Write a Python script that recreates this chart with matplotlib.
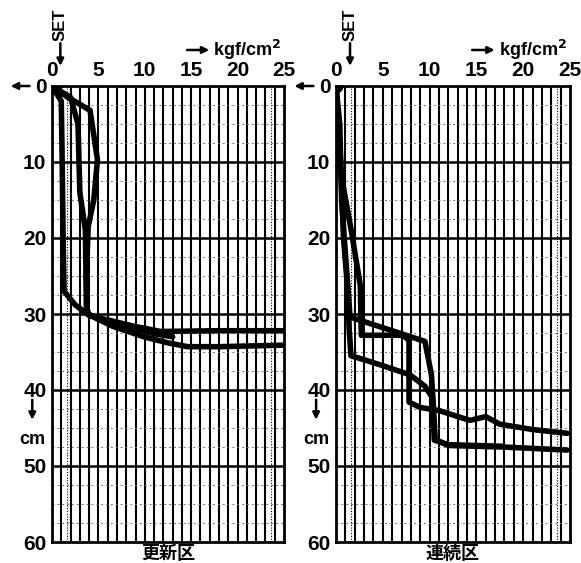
import matplotlib
matplotlib.use("Agg")
import matplotlib.pyplot as plt
import numpy as np

plt.rcParams['font.family'] = ['Liberation Sans', 'Noto Sans CJK JP', 'DejaVu Sans']
plt.rcParams['font.weight'] = 'bold'

# 更新区 : hardness (kgf/cm2) vs depth (cm)
a1_x = [0, 1.0, 1.1, 1.2, 1.3, 2.5, 3.8, 6.5, 9.9, 12.5, 14.6, 18, 25]
a1_d = [0, 2.0, 10, 20, 27, 28.8, 30.0, 31.6, 33.0, 33.8, 34.3, 34.3, 34.1]
a2_x = [0, 2.0, 2.8, 3.0, 3.6, 3.7, 4.0, 8.8, 11.7, 18, 25]
a2_d = [0, 1.5, 5, 14, 19, 29, 30.2, 31.6, 32.3, 32.2, 32.2]
a3_x = [0, 1.6, 4.1, 4.9, 4.5, 3.9, 3.7, 3.8, 6.0, 8.5, 11.0, 13.0]
a3_d = [0, 1.4, 3.2, 9.7, 15, 18.5, 25, 30.0, 30.9, 31.8, 32.6, 33.0]

# 連続区
b1_x = [0, 0.4, 0.6, 1.0, 1.3, 1.5, 5.5, 9.5, 10.2, 10.4, 10.6, 12, 17.8, 24.7]
b1_d = [0, 5, 15, 22, 27, 30.4, 32.0, 33.6, 38, 42, 46.5, 47.3, 47.5, 47.9]
b2_x = [0, 0.3, 1.7, 2.6, 2.7, 5.0, 7.2, 7.8, 7.8, 9.0, 11.0, 14.3, 16.0, 17.5, 21, 24.7]
b2_d = [0, 10, 19.5, 26.3, 32.8, 32.8, 32.8, 33.5, 41.6, 42.3, 42.7, 44.0, 43.5, 44.5, 45.2, 45.7]
b3_x = [0, 0.5, 0.8, 1.2, 1.4, 1.6, 2.7, 5.0, 7.9, 9.5, 10.3, 10.5, 12, 17.8]
b3_d = [0, 10, 20, 26, 31.8, 35.5, 35.9, 36.8, 38.0, 39.5, 41.0, 46.6, 47.2, 47.4]

x_ticks = [0, 5, 10, 15, 20, 25]
depth_ticks = [0, 10, 20, 30, 40, 50, 60]
names = ['更新区', '連続区']

fig = plt.figure(figsize=(5.81, 5.63), dpi=100)
ax1 = fig.add_axes([52/581, 21/563, 232/581, 456/563])
ax2 = fig.add_axes([336/581, 21/563, 234/581, 456/563])

panels = [(ax1, [(a1_x, a1_d), (a2_x, a2_d), (a3_x, a3_d)], names[0], 0.9),
          (ax2, [(b1_x, b1_d), (b2_x, b2_d), (b3_x, b3_d)], names[1], 1.5)]

for ax, curves, name, set_x in panels:
    ax.set_xlim(0, 25)
    ax.set_ylim(60, 0)
    # chart paper grid
    for v in range(1, 25):
        ax.axvline(v, color='black', lw=1.5, zorder=1)
    for v in [1.6, 1.9, 23.6, 23.9]:
        ax.axvline(v, color='black', lw=0.8, ls=(0, (1, 1.5)), zorder=1)
    for d in np.arange(2.5, 60, 2.5):
        if d % 10:
            ax.axhline(d, color='0.45', lw=0.7, ls=(0, (2, 3)), zorder=1)
    for d in range(10, 60, 10):
        ax.axhline(d, color='black', lw=1.8, zorder=2)
    for s in ax.spines.values():
        s.set_linewidth(2)

    for cx, cd in curves:
        ax.plot(cx, cd, color='black', lw=4.0, solid_capstyle='round',
                solid_joinstyle='round', zorder=5)
    ax.plot([0], [0], 'o', color='black', ms=9, zorder=6)

    ax.xaxis.tick_top()
    ax.set_xticks(x_ticks)
    ax.set_yticks(depth_ticks)
    ax.tick_params(length=0, labelsize=15, pad=4)
    ax.set_xticklabels([str(t) for t in x_ticks], fontweight='bold')
    ax.set_yticklabels([str(t) for t in depth_ticks], fontweight='bold')

    # arrows and unit labels
    ax.annotate('', xy=(-0.19, 1.0), xytext=(-0.085, 1.0), xycoords='axes fraction',
                arrowprops=dict(arrowstyle='-|>', color='black', lw=1.8), annotation_clip=False)
    ax.annotate('', xy=(-0.085, 0.262), xytext=(-0.085, 0.318), xycoords='axes fraction',
                arrowprops=dict(arrowstyle='-|>', color='black', lw=1.8), annotation_clip=False)
    ax.text(-0.085, 0.225, 'cm', transform=ax.transAxes, ha='center', va='center',
            fontsize=13, fontweight='bold')
    ax.annotate('', xy=(0.69, 1.079), xytext=(0.57, 1.079), xycoords='axes fraction',
                arrowprops=dict(arrowstyle='-|>', color='black', lw=1.8), annotation_clip=False)
    ax.text(0.695, 1.079, 'kgf/cm$^2$', transform=ax.transAxes, ha='left', va='center',
            fontsize=13, fontweight='bold')
    tr = ax.get_xaxis_transform()
    ax.text(set_x, 1.135, 'SET', transform=tr, rotation=90, ha='center', va='center',
            fontsize=12, fontweight='bold')
    ax.annotate('', xy=(set_x, 1.038), xytext=(set_x, 1.1), xycoords=tr,
                arrowprops=dict(arrowstyle='-|>', color='black', lw=1.8), annotation_clip=False)
    ax.text(0.5, -0.026, name, transform=ax.transAxes, ha='center', va='center',
            fontsize=13, fontweight='bold', family=['Noto Sans CJK JP', 'DejaVu Sans'])

fig.savefig('out.png', dpi=100)
